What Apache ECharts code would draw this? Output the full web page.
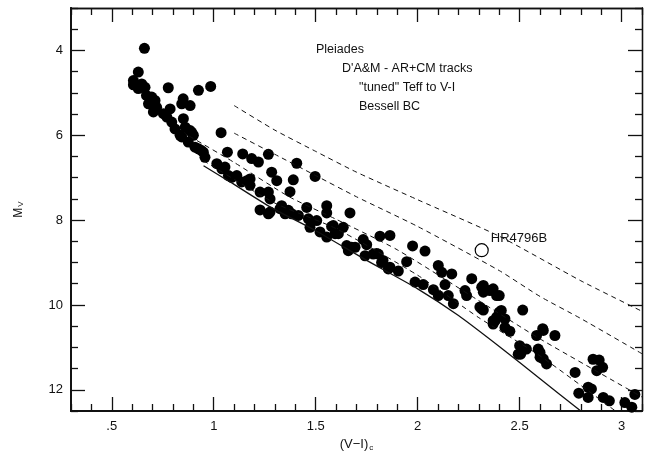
<!DOCTYPE html>
<html>
<head>
<meta charset="utf-8">
<script src="https://cdn.jsdelivr.net/npm/echarts@6/dist/echarts.min.js"></script>
<style>
  html, body { margin: 0; padding: 0; background: #fff; }
  #cmd { width: 645px; height: 458px; }
</style>
</head>
<body>
<div id="cmd"></div>
<script>
// Pleiades colour-magnitude diagram, (V-I)c vs Mv

var xMajor = [0.5, 1, 1.5, 2, 2.5, 3];
var yMajor = [4, 6, 8, 10, 12];

// isochrones (dashed) and ZAMS (solid)
var trackA = [[1.1, 5.3], [1.3, 5.88], [1.5, 6.38], [1.7, 6.87], [2.0, 7.52], [2.4, 8.38], [2.8, 9.43], [3.1, 10.15]];
var trackB = [[1.1, 5.95], [1.3, 6.45], [1.5, 6.95], [1.7, 7.45], [2.0, 8.15], [2.4, 9.19], [2.6, 9.8], [2.8, 10.32], [3.1, 11.15]];
var trackC = [[0.88, 6.02], [1.1, 6.64], [1.37, 7.45], [1.6, 7.98], [1.9, 8.7], [2.3, 9.9], [2.6, 10.8], [3.1, 12.17]];
var trackD = [[0.95, 6.6], [1.3, 7.6], [1.6, 8.2], [2.0, 9.3], [2.3, 10.3], [2.6, 11.2], [2.97, 12.5]];
var zams = [[0.95, 6.72], [1.08, 7.1], [1.28, 7.7], [1.5, 8.25], [1.75, 8.95], [2.0, 9.62], [2.2, 10.25], [2.4, 10.98], [2.6, 11.74], [2.8, 12.5]];

var stars = [
  [0.66, 3.95], [0.63, 4.51], [0.606, 4.71], [0.606, 4.81], [0.647, 4.79], [0.663, 4.87], [0.63, 4.9],
  [0.777, 4.88], [0.925, 4.94], [0.985, 4.85],
  [0.67, 5.06], [0.696, 5.1], [0.712, 5.18], [0.68, 5.26],
  [0.85, 5.14], [0.843, 5.26], [0.884, 5.3],
  [0.72, 5.34], [0.704, 5.45], [0.753, 5.49], [0.786, 5.38], [0.77, 5.57], [0.794, 5.69], [0.851, 5.61],
  [0.81, 5.85], [0.86, 5.81], [0.892, 5.93], [0.843, 6.04], [0.875, 6.16], [0.908, 6.28],
  [0.835, 6.0], [0.884, 5.89], [0.9, 6.0], [0.925, 6.32], [0.949, 6.4],
  [1.036, 5.94], [0.94, 6.36], [0.957, 6.52], [1.067, 6.4], [1.142, 6.44],
  [1.015, 6.67], [1.04, 6.79], [1.072, 6.95], [1.113, 6.95], [1.137, 7.1],
  [1.055, 6.75], [1.088, 6.99], [1.162, 7.07], [1.178, 7.03], [1.178, 7.18],
  [1.186, 6.55], [1.219, 6.63], [1.268, 6.45], [1.407, 6.66], [1.497, 6.97],
  [1.284, 6.87], [1.309, 7.07], [1.39, 7.05], [1.374, 7.33],
  [1.227, 7.34], [1.268, 7.34], [1.276, 7.5], [1.227, 7.76], [1.276, 7.81], [1.268, 7.85],
  [1.325, 7.73], [1.35, 7.85], [1.333, 7.66], [1.366, 7.77], [1.382, 7.85], [1.415, 7.89],
  [1.456, 7.7], [1.464, 7.97], [1.472, 8.17], [1.505, 8.01], [1.521, 8.28],
  [1.554, 7.66], [1.554, 7.83], [1.554, 8.4], [1.578, 8.15], [1.595, 8.32], [1.611, 8.32],
  [1.635, 8.17], [1.668, 7.83], [1.652, 8.6], [1.676, 8.64], [1.66, 8.72],
  [1.586, 8.13], [1.693, 8.64], [1.733, 8.46], [1.75, 8.58],
  [1.815, 8.38], [1.864, 8.36], [1.742, 8.84], [1.782, 8.8], [1.807, 8.8], [1.798, 8.79],
  [1.823, 9.0], [1.83, 8.95], [1.856, 9.15], [1.864, 9.11], [1.905, 9.2],
  [1.946, 8.98], [1.975, 8.61], [2.036, 8.73],
  [1.987, 9.46], [2.027, 9.52], [2.101, 9.07], [2.118, 9.23], [2.167, 9.27], [2.134, 9.52],
  [2.077, 9.64], [2.101, 9.78], [2.15, 9.78], [2.175, 9.97],
  [2.232, 9.66], [2.24, 9.78], [2.265, 9.38], [2.314, 9.58], [2.322, 9.54], [2.322, 9.7],
  [2.354, 9.66], [2.37, 9.62], [2.387, 9.78], [2.4, 9.78],
  [2.305, 10.05], [2.314, 10.09], [2.322, 10.12], [2.4, 10.17], [2.41, 10.13],
  [2.37, 10.37], [2.38, 10.37], [2.387, 10.29], [2.428, 10.33], [2.37, 10.45],
  [2.428, 10.53], [2.452, 10.62], [2.515, 10.12],
  [2.5, 10.96], [2.518, 11.04], [2.533, 11.04], [2.493, 11.16], [2.505, 11.16],
  [2.583, 10.72], [2.613, 10.56], [2.616, 10.6], [2.673, 10.72],
  [2.591, 11.04], [2.6, 11.12], [2.6, 11.23], [2.616, 11.27], [2.632, 11.39],
  [2.772, 11.59], [2.86, 11.28], [2.89, 11.3], [2.907, 11.47], [2.878, 11.55],
  [2.836, 11.94], [2.852, 11.98], [2.79, 12.08], [2.836, 12.18],
  [2.91, 12.18], [2.94, 12.26], [3.016, 12.3], [3.05, 12.41], [3.065, 12.11]
];

var hr4796b = [[2.314, 8.71]];

function minorTicks(lo, hi, step, majors) {
  var out = [];
  for (var v = lo; v <= hi + 1e-9; v += step) {
    var r = Math.round(v * 100) / 100;
    if (majors.indexOf(r) < 0) out.push(r);
  }
  return out;
}
var xMinor = minorTicks(0.3, 3.1, 0.1, xMajor);
var yMinor = minorTicks(3, 12.5, 0.5, yMajor);

var ink = '#111';
var font = 'Liberation Sans';

function xAx(pos, ticks, len, withLabels) {
  return {
    type: 'value', min: 0.3, max: 3.1, position: pos,
    axisLine: { show: true, onZero: false, lineStyle: { color: ink, width: pos === 'bottom' ? 1.8 : 1.3 } },
    splitLine: { show: false },
    axisTick: { show: true, inside: true, length: len, customValues: ticks, lineStyle: { color: ink, width: 1.3 } },
    axisLabel: withLabels ? {
      show: true, customValues: xMajor, color: ink, fontSize: 13, fontFamily: font, margin: 9,
      formatter: function (v) { return v === 0.5 ? '.5' : String(v); }
    } : { show: false }
  };
}
function yAx(pos, ticks, len, withLabels) {
  return {
    type: 'value', min: 3, max: 12.5, inverse: true, position: pos,
    axisLine: { show: true, onZero: false, lineStyle: { color: ink, width: pos === 'left' ? 1.8 : 1.3 } },
    splitLine: { show: false },
    axisTick: { show: true, inside: true, length: len, customValues: ticks, lineStyle: { color: ink, width: 1.3 } },
    axisLabel: withLabels ? {
      show: true, customValues: yMajor, color: ink, fontSize: 13, fontFamily: font, margin: 8
    } : { show: false }
  };
}

var xAxes = [xAx('bottom', xMajor, 14, true), xAx('bottom', xMinor, 7, false),
             xAx('top', xMajor, 14, false), xAx('top', xMinor, 7, false)];
xAxes[0].name = '{a|(V\u2212I)}{b|c}';
xAxes[0].nameLocation = 'middle';
xAxes[0].nameGap = 24;
xAxes[0].nameTextStyle = { color: ink, fontFamily: font, rich: {
  a: { fontSize: 13, fontFamily: font, color: ink },
  b: { fontSize: 8, fontFamily: font, color: ink, verticalAlign: 'bottom', padding: [6, 0, 0, 1] }
} };

var yAxes = [yAx('left', yMajor, 14, true), yAx('left', yMinor, 7, false),
             yAx('right', yMajor, 14, false), yAx('right', yMinor, 7, false)];
yAxes[0].name = '{a|M}{b|V}';
yAxes[0].nameLocation = 'middle';
yAxes[0].nameGap = 46;
yAxes[0].nameTextStyle = { color: ink, fontFamily: font, rich: {
  a: { fontSize: 12, fontFamily: font, color: ink },
  b: { fontSize: 8, fontFamily: font, color: ink, verticalAlign: 'bottom', padding: [5, 0, 0, 1] }
} };

function track(data, dashed) {
  return {
    type: 'line', data: data, showSymbol: false, smooth: 0.2, silent: true,
    xAxisIndex: 0, yAxisIndex: 0,
    lineStyle: { color: ink, width: dashed ? 1 : 1.3, type: dashed ? [5, 4] : 'solid' }
  };
}

var myChart = echarts.init(document.getElementById('cmd'));

var option = {
  animation: false,
  backgroundColor: '#fff',
  grid: { left: 71, right: 3, top: 8, bottom: 47 },
  xAxis: xAxes,
  yAxis: yAxes,
  graphic: [
    { type: 'text', x: 316, y: 50, style: { text: 'Pleiades', font: '12.5px "Liberation Sans"', fill: ink, verticalAlign: 'middle', textVerticalAlign: 'middle' } },
    { type: 'text', x: 342, y: 69, style: { text: "D'A&M - AR+CM tracks", font: '12.5px "Liberation Sans"', fill: ink, verticalAlign: 'middle', textVerticalAlign: 'middle' } },
    { type: 'text', x: 359, y: 88, style: { text: '"tuned" Teff to V-I', font: '12.5px "Liberation Sans"', fill: ink, verticalAlign: 'middle', textVerticalAlign: 'middle' } },
    { type: 'text', x: 359, y: 107, style: { text: 'Bessell BC', font: '12.5px "Liberation Sans"', fill: ink, verticalAlign: 'middle', textVerticalAlign: 'middle' } }
  ],
  series: [
    track(trackA, true),
    track(trackB, true),
    track(trackC, true),
    track(trackD, true),
    track(zams, false),
    {
      type: 'scatter', data: stars, symbol: 'circle', symbolSize: 11,
      xAxisIndex: 0, yAxisIndex: 0,
      itemStyle: { color: '#000', opacity: 1 }
    },
    {
      type: 'scatter', data: hr4796b, symbol: 'circle', symbolSize: 13,
      xAxisIndex: 0, yAxisIndex: 0,
      itemStyle: { color: '#fff', borderColor: '#000', borderWidth: 1.2, opacity: 1 },
      label: { show: true, formatter: 'HR4796B', position: 'right', distance: 2, offset: [0, -12],
               color: ink, fontSize: 13, fontFamily: font }
    }
  ]
};

myChart.setOption(option);
</script>
</body>
</html>
